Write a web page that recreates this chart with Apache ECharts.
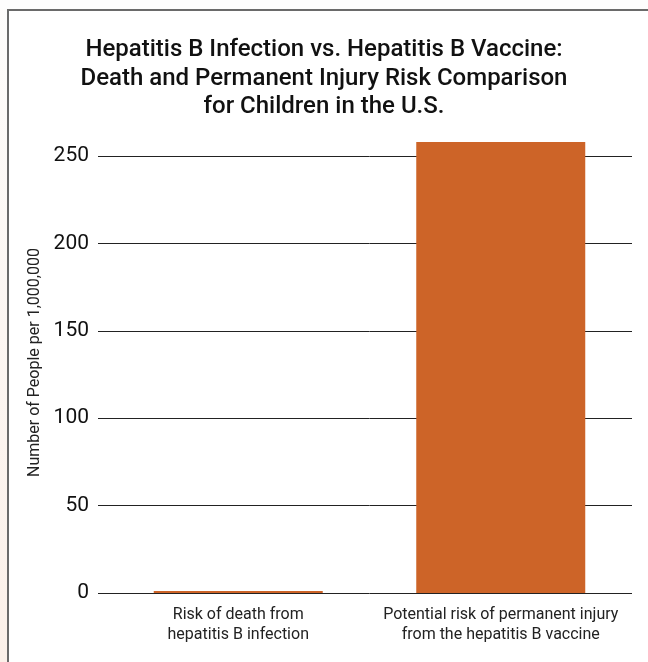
<!DOCTYPE html>
<html>
<head>
<meta charset="utf-8">
<script src="https://cdn.jsdelivr.net/npm/echarts@6/dist/echarts.min.js"></script>
<style>
  html, body { margin: 0; padding: 0; background: #fff; }
  #chart { width: 648px; height: 662px; }
</style>
</head>
<body>
<div id="chart"></div>
<script>
// risk per 1,000,000 children
var categories = [
  'Risk of death from\nhepatitis B infection',
  'Potential risk of permanent injury\nfrom the hepatitis B vaccine'
];
var riskValues = [1.1, 258];
var yTicks = [0, 50, 100, 150, 200, 250];

var chart = echarts.init(document.getElementById('chart'));

var option = {
  backgroundColor: '#fff',
  animation: false,
  title: {
    text: 'Hepatitis B Infection vs. Hepatitis B Vaccine:\nDeath and Permanent Injury Risk Comparison\nfor Children in the U.S.',
    left: 'center',
    top: 31,
    textStyle: {
      fontFamily: 'Roboto',
      fontWeight: 500,
      fontSize: 24,
      lineHeight: 28.5,
      color: '#111'
    }
  },
  // frame round the chart and the pale strip on its left
  graphic: [
    {
      type: 'rect', left: 0, top: 0, z: -1,
      shape: { width: 7, height: 662 },
      style: {
        fill: new echarts.graphic.LinearGradient(0, 0, 0, 1, [
          { offset: 0, color: '#fdfcfb' },
          { offset: 1, color: '#fbf0e9' }
        ])
      }
    },
    {
      type: 'rect', left: 0, top: 0, z: -1,
      shape: { width: 648, height: 9 },
      style: { fill: '#fdfdfd' }
    },
    {
      type: 'polyline', z: 10,
      shape: { points: [[8, 662], [8, 10], [648, 10]] },
      style: { stroke: '#6a6a6a', lineWidth: 2, fill: null }
    }
  ],
  grid: {
    left: 107,
    right: 16,
    top: 156,
    bottom: 69
  },
  xAxis: {
    type: 'category',
    data: categories,
    axisLine: { show: false },
    axisTick: { show: false },
    axisLabel: {
      interval: 0,
      margin: 12,
      fontFamily: 'Roboto',
      fontSize: 16,
      lineHeight: 20,
      color: '#222'
    }
  },
  yAxis: {
    type: 'value',
    min: yTicks[0],
    max: yTicks[yTicks.length - 1],
    interval: 50,
    name: 'Number of People per 1,000,000',
    nameLocation: 'middle',
    nameGap: 60,
    nameTextStyle: {
      fontFamily: 'Roboto',
      fontSize: 16,
      color: '#222',
      padding: [0, 0, 0, 24]
    },
    axisLine: { show: false },
    axisTick: {
      show: true,
      inside: false,
      length: 9,
      lineStyle: { color: '#222', width: 1 }
    },
    axisLabel: {
      margin: 18,
      fontFamily: 'Roboto',
      fontSize: 21,
      color: '#111'
    },
    splitLine: {
      show: true,
      lineStyle: { color: '#222', width: 1 }
    }
  },
  series: [{
    type: 'bar',
    data: riskValues,
    barWidth: 169,
    clip: false,
    itemStyle: { color: '#cd6428' },
    z: 3
  }]
};

chart.setOption(option);
</script>
</body>
</html>
